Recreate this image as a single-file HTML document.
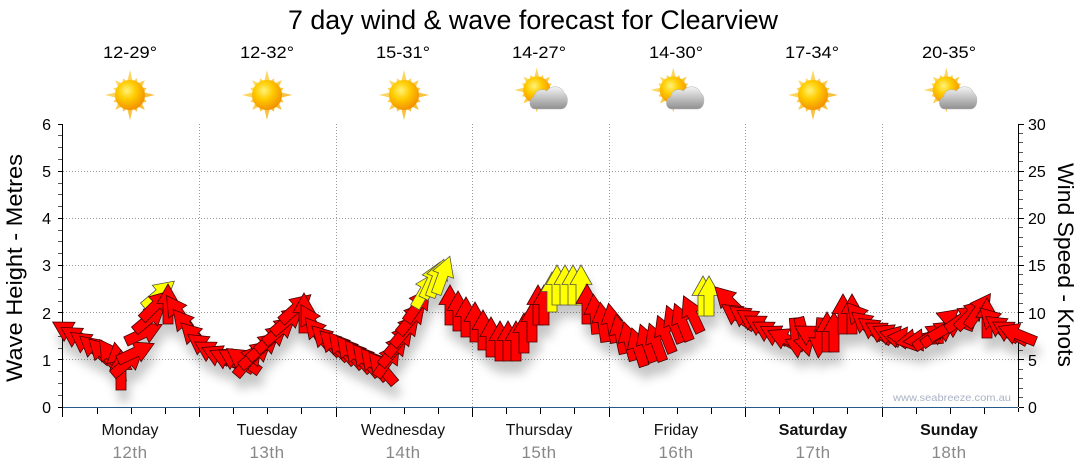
<!DOCTYPE html>
<html><head><meta charset="utf-8"><style>
html,body{margin:0;padding:0;background:#fff;}
svg{display:block;font-family:"Liberation Sans",Arial,sans-serif;}
</style></head><body>
<svg width="1080" height="475" viewBox="0 0 1080 475" xmlns="http://www.w3.org/2000/svg">
<defs>
<radialGradient id="sb" cx="40%" cy="35%" r="65%"><stop offset="0" stop-color="#fff27a"/><stop offset="0.45" stop-color="#ffcc00"/><stop offset="1" stop-color="#f39200"/></radialGradient>
<linearGradient id="sr" x1="0" y1="0" x2="1" y2="1"><stop offset="0" stop-color="#ffe680"/><stop offset="1" stop-color="#f5b020"/></linearGradient>
<linearGradient id="cg" x1="0" y1="0" x2="0" y2="1"><stop offset="0" stop-color="#f4f4f4"/><stop offset="1" stop-color="#909090"/></linearGradient>
<g id="sun"><polygon fill="url(#sr)" points="0,-25 2.73,-13.73 6.9,-16.6 7.78,-11.64 14.85,-14.85 11.64,-7.78 16.6,-6.9 13.73,-2.73 25,0 13.73,2.73 16.6,6.9 11.64,7.78 14.85,14.85 7.78,11.64 6.9,16.6 2.73,13.73 0,25 -2.73,13.73 -6.9,16.6 -7.78,11.64 -14.85,14.85 -11.64,7.78 -16.6,6.9 -13.73,2.73 -25,0 -13.73,-2.73 -16.6,-6.9 -11.64,-7.78 -14.85,-14.85 -7.78,-11.64 -6.9,-16.6 -2.73,-13.73"/><circle r="15" fill="url(#sb)"/></g>
<g id="pc"><use href="#sun" transform="translate(-4,-5) scale(0.9)"/><path transform="translate(-12.75,-10)" d="M7,24 C1,24 0,14 6,12 C7,5 14,3 19,6 C22,0 34,0 36,8 C41,10 41,24 33,24 Z" fill="url(#cg)" stroke="#b0b0b0" stroke-width="0.5"/></g>
<polygon id="ra" points="0,-20 11,-0.5 5,-0.5 5,20 -5,20 -5,-0.5 -11,-0.5" fill="#ff0000" stroke="#400" stroke-width="0.8"/>
<polygon id="ya" points="0,-20 11,-0.5 5,-0.5 5,20 -5,20 -5,-0.5 -11,-0.5" fill="#ffff00" stroke="#554" stroke-width="0.8"/>
<filter id="sh" x="-5%" y="-30%" width="110%" height="180%"><feDropShadow dx="3" dy="12" stdDeviation="5" flood-color="#000" flood-opacity="0.22"/></filter>
</defs>

<text x="288" y="29" font-size="27" fill="#000" textLength="490" lengthAdjust="spacingAndGlyphs">7 day wind &amp; wave forecast for Clearview</text>

<g font-size="17" fill="#000" text-anchor="middle">
<text x="130" y="58" textLength="54" lengthAdjust="spacingAndGlyphs">12-29°</text>
<text x="267" y="58" textLength="54" lengthAdjust="spacingAndGlyphs">12-32°</text>
<text x="403" y="58" textLength="54" lengthAdjust="spacingAndGlyphs">15-31°</text>
<text x="539" y="58" textLength="54" lengthAdjust="spacingAndGlyphs">14-27°</text>
<text x="676" y="58" textLength="54" lengthAdjust="spacingAndGlyphs">14-30°</text>
<text x="812" y="58" textLength="54" lengthAdjust="spacingAndGlyphs">17-34°</text>
<text x="949" y="58" textLength="54" lengthAdjust="spacingAndGlyphs">20-35°</text>
</g>

<use href="#sun" transform="translate(130,95)"/>
<use href="#sun" transform="translate(267,95)"/>
<use href="#sun" transform="translate(404,95)"/>
<use href="#pc" transform="translate(540.75,95)"/>
<use href="#pc" transform="translate(677.25,95)"/>
<use href="#sun" transform="translate(813,95)"/>
<use href="#pc" transform="translate(950.25,95)"/>

<g stroke="#9a9a9a" stroke-width="1" stroke-dasharray="1,2" fill="none">
<path d="M63,359.5H1018M63,312.5H1018M63,265.5H1018M63,218.5H1018M63,171.5H1018"/>
<path d="M199.5,124V407M336.5,124V407M472.5,124V407M609.5,124V407M745.5,124V407M882.5,124V407"/>
</g>

<g fill="none" shape-rendering="crispEdges">
<path d="M62.5,124V417" stroke="#000"/>
<path d="M1018.5,124V407" stroke="#000"/>
<path stroke="#555" d="M58,395.5h4M58,383.5h4M58,371.5h4M58,348.5h4M58,336.5h4M58,324.5h4M58,301.5h4M58,289.5h4M58,277.5h4M58,253.5h4M58,241.5h4M58,230.5h4M58,206.5h4M58,194.5h4M58,183.5h4M58,159.5h4M58,147.5h4M58,135.5h4"/>
<path stroke="#000" d="M58,407.5h4M58,359.5h4M58,312.5h4M58,265.5h4M58,218.5h4M58,171.5h4M58,124.5h4"/>
<path stroke="#555" d="M1019,397.5h4M1019,388.5h4M1019,378.5h4M1019,369.5h4M1019,350.5h4M1019,340.5h4M1019,331.5h4M1019,322.5h4M1019,303.5h4M1019,293.5h4M1019,284.5h4M1019,274.5h4M1019,256.5h4M1019,246.5h4M1019,237.5h4M1019,227.5h4M1019,208.5h4M1019,199.5h4M1019,190.5h4M1019,180.5h4M1019,161.5h4M1019,152.5h4M1019,142.5h4M1019,133.5h4"/>
<path stroke="#000" d="M1019,407.5h5M1019,359.5h5M1019,312.5h5M1019,265.5h5M1019,218.5h5M1019,171.5h5M1019,124.5h5"/>
<path stroke="#000" d="M199.5,408V417M336.5,408V417M472.5,408V417M609.5,408V417M745.5,408V417M882.5,408V417M1018.5,408V412"/>
<path stroke="#000" d="M97.5,408V414M131.5,408V414M165.5,408V414M233.5,408V414M267.5,408V414M301.5,408V414M370.5,408V414M404.5,408V414M438.5,408V414M506.5,408V414M540.5,408V414M574.5,408V414M643.5,408V414M677.5,408V414M711.5,408V414M779.5,408V414M813.5,408V414M847.5,408V414M916.5,408V414M950.5,408V414M984.5,408V414"/>
<path d="M63,407.5H1018" stroke="#24598a"/>
</g>

<g font-size="16" fill="#000" text-anchor="end">
<text x="51" y="413">0</text><text x="51" y="366">1</text><text x="51" y="319">2</text><text x="51" y="271">3</text><text x="51" y="224">4</text><text x="51" y="177">5</text><text x="51" y="130">6</text>
</g>
<g font-size="16" fill="#000">
<text x="1028" y="413">0</text><text x="1028" y="366">5</text><text x="1028" y="319">10</text><text x="1028" y="271">15</text><text x="1028" y="224">20</text><text x="1028" y="177">25</text><text x="1028" y="130">30</text>
</g>

<text transform="translate(22,268) rotate(-90)" font-size="22" text-anchor="middle" textLength="228" lengthAdjust="spacingAndGlyphs">Wave Height - Metres</text>
<text transform="translate(1058,265) rotate(90)" font-size="22" text-anchor="middle" textLength="204" lengthAdjust="spacingAndGlyphs">Wind Speed - Knots</text>

<g font-size="16" fill="#111" text-anchor="middle">
<text x="130" y="435">Monday</text>
<text x="267" y="435">Tuesday</text>
<text x="403" y="435">Wednesday</text>
<text x="539" y="435">Thursday</text>
<text x="676" y="435">Friday</text>
<text x="813" y="435" font-weight="bold">Saturday</text>
<text x="949" y="435" font-weight="bold">Sunday</text>
</g>
<g font-size="17" fill="#888" text-anchor="middle" letter-spacing="0.5">
<text x="130" y="458">12th</text>
<text x="267" y="458">13th</text>
<text x="403" y="458">14th</text>
<text x="539" y="458">15th</text>
<text x="676" y="458">16th</text>
<text x="813" y="458">17th</text>
<text x="949" y="458">18th</text>
</g>

<text x="893" y="401" font-size="10.5" fill="#a9b2c4" textLength="118" lengthAdjust="spacingAndGlyphs">www.seabreeze.com.au</text>

<g filter="url(#sh)">
<use href="#ra" transform="translate(70,332) rotate(-60)"/>
<use href="#ra" transform="translate(78,338) rotate(-58)"/>
<use href="#ra" transform="translate(87,344) rotate(-55)"/>
<use href="#ra" transform="translate(95,349) rotate(-50)"/>
<use href="#ra" transform="translate(103,353) rotate(-45)"/>
<use href="#ra" transform="translate(111,356) rotate(-35)"/>
<use href="#ra" transform="translate(118,362) rotate(-10)"/>
<use href="#ra" transform="translate(121,370) rotate(0)"/>
<use href="#ra" transform="translate(128,362) rotate(50)"/>
<use href="#ra" transform="translate(136,352) rotate(65)"/>
<use href="#ra" transform="translate(144,333) rotate(65)"/>
<use href="#ra" transform="translate(150,318) rotate(50)"/>
<use href="#ya" transform="translate(159,294) rotate(50)"/>
<use href="#ra" transform="translate(156,305) rotate(45)"/>
<use href="#ra" transform="translate(168,304) rotate(0)"/>
<use href="#ra" transform="translate(178,312) rotate(-35)"/>
<use href="#ra" transform="translate(186,325) rotate(-40)"/>
<use href="#ra" transform="translate(195,337) rotate(-45)"/>
<use href="#ra" transform="translate(204,346) rotate(-55)"/>
<use href="#ra" transform="translate(212,352) rotate(-60)"/>
<use href="#ra" transform="translate(220,356) rotate(-65)"/>
<use href="#ra" transform="translate(228,359) rotate(-65)"/>
<use href="#ra" transform="translate(236,360) rotate(-60)"/>
<use href="#ra" transform="translate(243,360) rotate(-55)"/>
<use href="#ra" transform="translate(249,360) rotate(40)"/>
<use href="#ra" transform="translate(256,354) rotate(50)"/>
<use href="#ra" transform="translate(264,346) rotate(50)"/>
<use href="#ra" transform="translate(272,338) rotate(50)"/>
<use href="#ra" transform="translate(280,330) rotate(50)"/>
<use href="#ra" transform="translate(288,320) rotate(50)"/>
<use href="#ra" transform="translate(296,308) rotate(48)"/>
<use href="#ra" transform="translate(304,313) rotate(0)"/>
<use href="#ra" transform="translate(311,322) rotate(-30)"/>
<use href="#ra" transform="translate(318,333) rotate(-40)"/>
<use href="#ra" transform="translate(326,340) rotate(-45)"/>
<use href="#ra" transform="translate(334,345) rotate(-45)"/>
<use href="#ra" transform="translate(342,348) rotate(-40)"/>
<use href="#ra" transform="translate(350,352) rotate(-40)"/>
<use href="#ra" transform="translate(358,356) rotate(-40)"/>
<use href="#ra" transform="translate(366,360) rotate(-40)"/>
<use href="#ra" transform="translate(374,364) rotate(-40)"/>
<use href="#ra" transform="translate(382,368) rotate(-40)"/>
<use href="#ra" transform="translate(388,360) rotate(35)"/>
<use href="#ra" transform="translate(394,350) rotate(40)"/>
<use href="#ra" transform="translate(400,340) rotate(40)"/>
<use href="#ra" transform="translate(406,330) rotate(40)"/>
<use href="#ra" transform="translate(412,318) rotate(40)"/>
<use href="#ra" transform="translate(418,305) rotate(35)"/>
<use href="#ya" transform="translate(425,290) rotate(30)"/>
<use href="#ya" transform="translate(432,280) rotate(25)"/>
<use href="#ya" transform="translate(437,278) rotate(20)"/>
<use href="#ya" transform="translate(443,275) rotate(20)"/>
<use href="#ra" transform="translate(450,305)"/>
<use href="#ra" transform="translate(458,311)"/>
<use href="#ra" transform="translate(466,317)"/>
<use href="#ra" transform="translate(475,322)"/>
<use href="#ra" transform="translate(483,330)"/>
<use href="#ra" transform="translate(491,337)"/>
<use href="#ra" transform="translate(500,341)"/>
<use href="#ra" transform="translate(508,341)"/>
<use href="#ra" transform="translate(516,341)"/>
<use href="#ra" transform="translate(524,333)"/>
<use href="#ra" transform="translate(532,322)"/>
<use href="#ra" transform="translate(538,305)"/>
<use href="#ra" transform="translate(544,305)"/>
<use href="#ya" transform="translate(552,292)"/>
<use href="#ya" transform="translate(557,285)"/>
<use href="#ya" transform="translate(565,285)"/>
<use href="#ya" transform="translate(573,285)"/>
<use href="#ya" transform="translate(581,285)"/>
<use href="#ra" transform="translate(587,304)"/>
<use href="#ra" transform="translate(595,314) rotate(-5)"/>
<use href="#ra" transform="translate(603,322) rotate(-8)"/>
<use href="#ra" transform="translate(612,323) rotate(-10)"/>
<use href="#ra" transform="translate(620,334) rotate(-12)"/>
<use href="#ra" transform="translate(629,341) rotate(-15)"/>
<use href="#ra" transform="translate(638,347) rotate(-18)"/>
<use href="#ra" transform="translate(647,343) rotate(-20)"/>
<use href="#ra" transform="translate(656,342) rotate(-20)"/>
<use href="#ra" transform="translate(665,334) rotate(-22)"/>
<use href="#ra" transform="translate(674,324) rotate(-22)"/>
<use href="#ra" transform="translate(682,322) rotate(-22)"/>
<use href="#ra" transform="translate(692,314) rotate(-25)"/>
<use href="#ya" transform="translate(703,296)"/>
<use href="#ya" transform="translate(709,296)"/>
<use href="#ra" transform="translate(729,301) rotate(-45)"/>
<use href="#ra" transform="translate(738,316) rotate(-55)"/>
<use href="#ra" transform="translate(746,318) rotate(-55)"/>
<use href="#ra" transform="translate(754,321) rotate(-58)"/>
<use href="#ra" transform="translate(762,326) rotate(-60)"/>
<use href="#ra" transform="translate(770,332) rotate(-60)"/>
<use href="#ra" transform="translate(778,336) rotate(-62)"/>
<use href="#ra" transform="translate(786,339) rotate(-65)"/>
<use href="#ra" transform="translate(796,338) rotate(175)"/>
<use href="#ra" transform="translate(804,337) rotate(165)"/>
<use href="#ra" transform="translate(812,336) rotate(-60)"/>
<use href="#ra" transform="translate(820,338) rotate(185)"/>
<use href="#ra" transform="translate(827,332)"/>
<use href="#ra" transform="translate(834,332)"/>
<use href="#ra" transform="translate(843,314)"/>
<use href="#ra" transform="translate(852,314)"/>
<use href="#ra" transform="translate(860,318) rotate(-40)"/>
<use href="#ra" transform="translate(867,325) rotate(-50)"/>
<use href="#ra" transform="translate(875,330) rotate(-55)"/>
<use href="#ra" transform="translate(883,333) rotate(-60)"/>
<use href="#ra" transform="translate(891,335) rotate(-65)"/>
<use href="#ra" transform="translate(899,337) rotate(-75)"/>
<use href="#ra" transform="translate(907,338) rotate(-85)"/>
<use href="#ra" transform="translate(915,340) rotate(-100)"/>
<use href="#ra" transform="translate(923,340) rotate(-95)"/>
<use href="#ra" transform="translate(931,336) rotate(55)"/>
<use href="#ra" transform="translate(939,333) rotate(55)"/>
<use href="#ra" transform="translate(947,328) rotate(60)"/>
<use href="#ra" transform="translate(955,320) rotate(-70)"/>
<use href="#ra" transform="translate(963,318) rotate(55)"/>
<use href="#ra" transform="translate(971,314) rotate(45)"/>
<use href="#ra" transform="translate(979,310) rotate(35)"/>
<use href="#ra" transform="translate(987,318)"/>
<use href="#ra" transform="translate(994,322) rotate(-45)"/>
<use href="#ra" transform="translate(1002,328) rotate(-55)"/>
<use href="#ra" transform="translate(1010,332) rotate(-60)"/>
<use href="#ra" transform="translate(1017,334) rotate(-68)"/>
</g>
</svg>
</body></html>
